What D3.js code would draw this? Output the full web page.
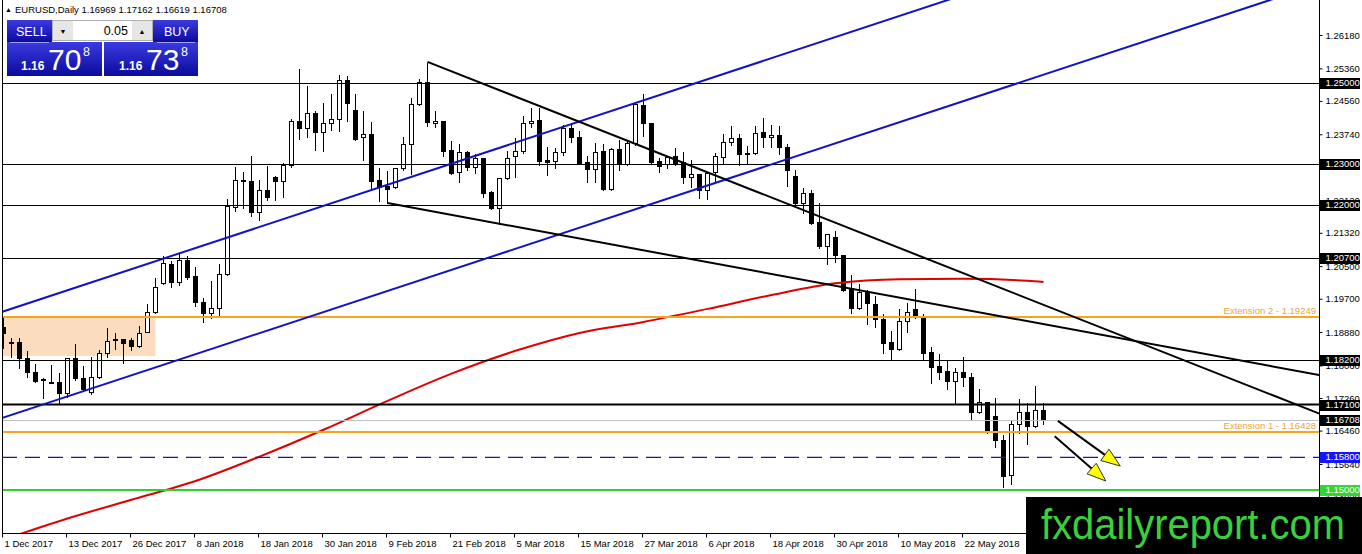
<!DOCTYPE html>
<html>
<head>
<meta charset="utf-8">
<script src="https://d3js.org/d3.v7.min.js"></script>
<style>
  body { margin: 0; background: #fff; overflow: hidden; }
  svg { display: block; }
  text { font-family: "Liberation Sans", Arial, sans-serif; }
</style>
</head>
<body>
<div id="chart"></div>
<script>
// ---- data ----
const dates = [
  "2017-12-01","2017-12-04","2017-12-05","2017-12-06","2017-12-07","2017-12-08","2017-12-11","2017-12-12","2017-12-13","2017-12-14",
  "2017-12-15","2017-12-18","2017-12-19","2017-12-20","2017-12-21","2017-12-22","2017-12-26","2017-12-27","2017-12-28","2017-12-29",
  "2018-01-02","2018-01-03","2018-01-04","2018-01-05","2018-01-08","2018-01-09","2018-01-10","2018-01-11","2018-01-12","2018-01-15",
  "2018-01-16","2018-01-17","2018-01-18","2018-01-19","2018-01-22","2018-01-23","2018-01-24","2018-01-25","2018-01-26","2018-01-29",
  "2018-01-30","2018-01-31","2018-02-01","2018-02-02","2018-02-05","2018-02-06","2018-02-07","2018-02-08","2018-02-09","2018-02-12",
  "2018-02-13","2018-02-14","2018-02-15","2018-02-16","2018-02-19","2018-02-20","2018-02-21","2018-02-22","2018-02-23","2018-02-26",
  "2018-02-27","2018-02-28","2018-03-01","2018-03-02","2018-03-05","2018-03-06","2018-03-07","2018-03-08","2018-03-09","2018-03-12",
  "2018-03-13","2018-03-14","2018-03-15","2018-03-16","2018-03-19","2018-03-20","2018-03-21","2018-03-22","2018-03-23","2018-03-26",
  "2018-03-27","2018-03-28","2018-03-29","2018-03-30","2018-04-02","2018-04-03","2018-04-04","2018-04-05","2018-04-06","2018-04-09",
  "2018-04-10","2018-04-11","2018-04-12","2018-04-13","2018-04-16","2018-04-17","2018-04-18","2018-04-19","2018-04-20","2018-04-23",
  "2018-04-24","2018-04-25","2018-04-26","2018-04-27","2018-04-30","2018-05-01","2018-05-02","2018-05-03","2018-05-04","2018-05-07",
  "2018-05-08","2018-05-09","2018-05-10","2018-05-11","2018-05-14","2018-05-15","2018-05-16","2018-05-17","2018-05-18","2018-05-21",
  "2018-05-22","2018-05-23","2018-05-24","2018-05-25","2018-05-28","2018-05-29","2018-05-30","2018-05-31","2018-06-01","2018-06-04",
  "2018-06-05"
];

const open = [
  1.1900,1.1864,1.1864,1.1824,1.1790,1.1770,1.1765,1.1765,1.1738,1.1824,
  1.1775,1.1740,1.1778,1.1837,1.1871,1.1871,1.1869,1.1854,1.1889,1.1937,
  1.2008,1.2055,1.2011,1.2065,1.2026,1.1962,1.1935,1.1947,1.2031,1.2196,
  1.2262,1.2258,1.2183,1.2237,1.2269,1.2259,1.2299,1.2407,1.2389,1.2426,
  1.2380,1.2402,1.2412,1.2507,1.2434,1.2367,1.2375,1.2262,1.2247,1.2245,
  1.2291,1.2350,1.2448,1.2502,1.2402,1.2407,1.2335,1.2281,1.2330,1.2294,
  1.2316,1.2232,1.2193,1.2267,1.2320,1.2333,1.2402,1.2409,1.2311,1.2308,
  1.2330,1.2389,1.2367,1.2306,1.2289,1.2333,1.2240,1.2338,1.2301,1.2353,
  1.2446,1.2402,1.2308,1.2301,1.2321,1.2306,1.2269,1.2276,1.2237,1.2281,
  1.2318,1.2355,1.2365,1.2328,1.2328,1.2380,1.2367,1.2372,1.2343,1.2272,
  1.2205,1.2230,1.2159,1.2100,1.2122,1.2077,1.1996,1.1947,1.1987,1.1957,
  1.1920,1.1864,1.1846,1.1915,1.1945,1.1925,1.1839,1.1805,1.1793,1.1768,
  1.1790,1.1778,1.1692,1.1716,1.1682,1.1623,1.1537,1.1662,1.1692,1.1657,
  1.16969
];
const high = [
  1.1925,1.1876,1.1876,1.1844,1.1812,1.1778,1.1810,1.1790,1.1827,1.1861,
  1.1807,1.1829,1.1846,1.1900,1.1888,1.1872,1.1876,1.1905,1.1960,1.2023,
  1.2077,1.2065,1.2082,1.2077,1.2050,1.1974,1.2016,1.2058,1.2217,1.2296,
  1.2284,1.2323,1.2264,1.2299,1.2274,1.2306,1.2414,1.2537,1.2495,1.2434,
  1.2453,1.2475,1.2522,1.2520,1.2475,1.2434,1.2407,1.2294,1.2286,1.2293,
  1.2370,1.2466,1.2512,1.2552,1.2434,1.2410,1.2360,1.2353,1.2335,1.2328,
  1.2318,1.2237,1.2269,1.2335,1.2367,1.2421,1.2441,1.2441,1.2345,1.2343,
  1.2399,1.2404,1.2385,1.2323,1.2355,1.2353,1.2343,1.2362,1.2362,1.2450,
  1.2475,1.2404,1.2318,1.2323,1.2343,1.2333,1.2313,1.2279,1.2281,1.2330,
  1.2377,1.2397,1.2377,1.2348,1.2397,1.2416,1.2399,1.2397,1.2353,1.2289,
  1.2245,1.2240,1.2208,1.2131,1.2139,1.2080,1.2031,1.2009,1.1994,1.1979,
  1.1935,1.1893,1.1947,1.1962,1.1996,1.1935,1.1854,1.1837,1.1822,1.1802,
  1.1829,1.1790,1.1751,1.1718,1.1729,1.1638,1.1672,1.1726,1.1716,1.1758,
  1.17162
];
const low = [
  1.1849,1.1827,1.1800,1.1778,1.1766,1.1726,1.1762,1.1714,1.1729,1.1770,
  1.1746,1.1736,1.1775,1.1827,1.1846,1.1812,1.1844,1.1852,1.1888,1.1935,
  1.2005,1.1999,1.2004,1.2018,1.1952,1.1913,1.1923,1.1928,1.2029,1.2186,
  1.2193,1.2173,1.2163,1.2213,1.2213,1.2220,1.2294,1.2362,1.2367,1.2335,
  1.2333,1.2385,1.2382,1.2407,1.2360,1.2311,1.2242,1.2210,1.2205,1.2243,
  1.2286,1.2276,1.2446,1.2394,1.2392,1.2321,1.2277,1.2257,1.2286,1.2279,
  1.2220,1.2191,1.2154,1.2265,1.2269,1.2328,1.2392,1.2299,1.2274,1.2291,
  1.2323,1.2355,1.2301,1.2257,1.2257,1.2238,1.2238,1.2286,1.2299,1.2348,
  1.2370,1.2303,1.2281,1.2291,1.2299,1.2254,1.2245,1.2217,1.2215,1.2257,
  1.2303,1.2348,1.2299,1.2303,1.2326,1.2343,1.2343,1.2326,1.2247,1.2203,
  1.2181,1.2154,1.2095,1.2055,1.2060,1.1989,1.1935,1.1945,1.1908,1.1900,
  1.1837,1.1820,1.1844,1.1888,1.1923,1.1820,1.1763,1.1773,1.1748,1.1714,
  1.1756,1.1674,1.1689,1.1641,1.1606,1.1507,1.1515,1.1640,1.1613,1.1655,
  1.16619
];
const close = [
  1.1886,1.1861,1.1824,1.1790,1.1768,1.1773,1.1763,1.1738,1.1824,1.1775,
  1.1748,1.1778,1.1837,1.1866,1.1869,1.1861,1.1854,1.1886,1.1937,1.1999,
  1.2058,1.2011,1.2065,1.2023,1.1962,1.1935,1.1947,1.2031,1.2198,1.2262,
  1.2258,1.2183,1.2237,1.2220,1.2259,1.2299,1.2407,1.2389,1.2426,1.2380,
  1.2402,1.2412,1.2507,1.2451,1.2362,1.2375,1.2259,1.2245,1.2240,1.2291,
  1.2350,1.2448,1.2502,1.2404,1.2407,1.2333,1.2279,1.2330,1.2294,1.2316,
  1.2230,1.2193,1.2267,1.2316,1.2333,1.2402,1.2407,1.2308,1.2306,1.2330,
  1.2389,1.2367,1.2303,1.2289,1.2330,1.2240,1.2338,1.2301,1.2353,1.2448,
  1.2402,1.2306,1.2296,1.2318,1.2301,1.2269,1.2276,1.2237,1.2279,1.2321,
  1.2355,1.2365,1.2326,1.2326,1.2377,1.2367,1.2372,1.2343,1.2286,1.2205,
  1.2230,1.2156,1.2100,1.2129,1.2077,1.1991,1.1947,1.1987,1.1960,1.1920,
  1.1861,1.1846,1.1915,1.1937,1.1925,1.1837,1.1802,1.1790,1.1768,1.1790,
  1.1778,1.1692,1.1716,1.1643,1.1623,1.1534,1.1662,1.1692,1.1657,1.1697,
  1.16708
];

// red moving average, read at a few dates
const maDates = ["2017-12-01","2017-12-13","2017-12-26","2018-01-08","2018-01-18","2018-01-30","2018-02-09","2018-02-21",
  "2018-03-05","2018-03-15","2018-03-27","2018-04-06","2018-04-18","2018-04-30","2018-05-10","2018-05-22","2018-06-01","2018-06-05"];
const maValues = [1.1378,1.1430,1.1476,1.1522,1.1582,1.1648,1.1719,1.1786,
  1.1842,1.1886,1.1913,1.1945,1.1979,1.2008,1.2018,1.2019,1.2014,1.2011];

// axis ticks
const priceTicks = [1.26180,1.25360,1.24560,1.23740,1.22940,1.22120,1.21320,1.20500,1.19700,1.18880,1.18060,1.17260,1.16460,1.15640,1.14820];
const tickDates = ["2017-12-01","2017-12-13","2017-12-26","2018-01-08","2018-01-18","2018-01-30","2018-02-09","2018-02-21",
  "2018-03-05","2018-03-15","2018-03-27","2018-04-06","2018-04-18","2018-04-30","2018-05-10","2018-05-22"];

// drawn objects
const blackLevels = [1.25, 1.23, 1.22, 1.207, 1.182];
const boldLevel = 1.171;
const extLevels = [1.19249, 1.16428];
const extNames = ["Extension 2", "Extension 1"];
const targetLevel = 1.158;
const supportLevel = 1.15;
const zoneTop = 1.19249, zoneBottom = 1.1829, zoneEnd = "2017-12-29";
// trendlines as [bar index, price] anchors
const blackTrends = [[[53, 1.2552], [164.3, 1.1689]], [[48, 1.2205], [164.3, 1.1783]]];
const blueChannel = [[[0, 1.1939], [100, 1.2587]], [[0, 1.1678], [100, 1.2326]]];
const arrows = [[[131.8, 1.1670], [139.6, 1.1559]], [[131.4, 1.1632], [137.8, 1.1522]]];

const symbol = "EURUSD,Daily";
const bid = "1.16708", ask = "1.16738", lot = "0.05";

// ---- layout ----
const width = 1362, height = 554;
const plot = { left: 2, right: 1319, top: 0, bottom: 533 };

const svg = d3.select("#chart").append("svg")
  .attr("width", width)
  .attr("height", height);

const x = d3.scaleLinear().domain([0, 164]).range([3.5, 3.5 + 8 * 164]);
const y = d3.scaleLinear().domain([1.13944, 1.27039]).range([plot.bottom, 0]);
const py = v => Math.round(y(v)) + 0.5;
const idx = d => dates.indexOf(d);

svg.append("defs").append("clipPath").attr("id", "plotclip")
  .append("rect")
  .attr("x", plot.left).attr("y", plot.top)
  .attr("width", plot.right - plot.left).attr("height", plot.bottom - plot.top);

const g = svg.append("g").attr("clip-path", "url(#plotclip)");

// shaded zone behind candles
g.append("rect")
  .attr("x", plot.left)
  .attr("y", y(zoneTop))
  .attr("width", x(idx(zoneEnd)) - plot.left)
  .attr("height", y(zoneBottom) - y(zoneTop))
  .attr("fill", "#fcdcbf");

// candles
const bars = dates.map((d, i) => ({ date: d, i, o: open[i], h: high[i], l: low[i], c: close[i] }));
const candles = g.append("g").attr("shape-rendering", "crispEdges")
  .selectAll("g").data(bars).join("g");

candles.append("line")
  .attr("x1", d => x(d.i)).attr("x2", d => x(d.i))
  .attr("y1", d => py(d.h)).attr("y2", d => py(d.l))
  .attr("stroke", "#000");

candles.append("rect")
  .attr("x", d => x(d.i) - 2)
  .attr("width", 4)
  .attr("y", d => py(Math.max(d.o, d.c)))
  .attr("height", d => Math.max(1, py(Math.min(d.o, d.c)) - py(Math.max(d.o, d.c))))
  .attr("fill", d => d.c >= d.o ? "#fff" : "#000")
  .attr("stroke", "#000");

// moving average
g.append("path")
  .datum(maDates.map((d, k) => [idx(d), maValues[k]]))
  .attr("fill", "none")
  .attr("stroke", "#e00000")
  .attr("stroke-width", 2)
  .attr("d", d3.line().x(d => x(d[0])).y(d => y(d[1])).curve(d3.curveMonotoneX));

// horizontal levels
const hline = (v, color, w, dash) => g.append("line")
  .attr("x1", plot.left).attr("x2", plot.right)
  .attr("y1", w === 1 ? py(v) : y(v)).attr("y2", w === 1 ? py(v) : y(v))
  .attr("stroke", color).attr("stroke-width", w)
  .attr("stroke-dasharray", dash || null);

blackLevels.forEach(v => hline(v, "#000", 1));
hline(close[close.length - 1], "#c0c0c0", 1);
hline(boldLevel, "#000", 2);
extLevels.forEach(v => hline(v, "#f5a51f", 2));
hline(targetLevel, "#1414b4", 1.2, "15,8");
hline(supportLevel, "#2ed12e", 2);

extLevels.forEach((v, k) => g.append("text")
  .attr("x", plot.right - 3)
  .attr("y", y(v) - 3)
  .attr("text-anchor", "end")
  .attr("font-size", 9.5)
  .attr("fill", "#eea43a")
  .text(`${extNames[k]} - ${v.toFixed(5)}`));

// trendlines (extended to the right)
const extend = (a, b, i) => a[1] + (b[1] - a[1]) * (i - a[0]) / (b[0] - a[0]);

blueChannel.forEach(([a, b]) => g.append("line")
  .attr("x1", x(-5)).attr("y1", y(extend(a, b, -5)))
  .attr("x2", x(170)).attr("y2", y(extend(a, b, 170)))
  .attr("stroke", "#1212c4").attr("stroke-width", 2));

blackTrends.forEach(([a, b]) => g.append("line")
  .attr("x1", x(a[0])).attr("y1", y(a[1]))
  .attr("x2", x(170)).attr("y2", y(extend(a, b, 170)))
  .attr("stroke", "#000").attr("stroke-width", 2));

// arrows
arrows.forEach(([a, b]) => {
  const x1 = x(a[0]), y1 = y(a[1]), x2 = x(b[0]), y2 = y(b[1]);
  const ang = Math.atan2(y2 - y1, x2 - x1);
  const len = 19, half = 7;
  const bx = x2 - len * Math.cos(ang), by = y2 - len * Math.sin(ang);
  g.append("line")
    .attr("x1", x1).attr("y1", y1).attr("x2", bx).attr("y2", by)
    .attr("stroke", "#000").attr("stroke-width", 2);
  const pts = [
    [x2, y2],
    [bx + half * Math.sin(ang), by - half * Math.cos(ang)],
    [bx - half * Math.sin(ang), by + half * Math.cos(ang)]
  ];
  g.append("polygon")
    .attr("points", pts.map(p => p.join(",")).join(" "))
    .attr("fill", "#ffff00")
    .attr("stroke", "#333")
    .attr("stroke-width", 1);
});

// frame
const frame = svg.append("g").attr("stroke", "#000").attr("shape-rendering", "crispEdges");
frame.append("line").attr("x1", plot.left + 0.5).attr("x2", plot.left + 0.5).attr("y1", 0).attr("y2", plot.bottom + 0.5);
frame.append("line").attr("x1", plot.right + 0.5).attr("x2", plot.right + 0.5).attr("y1", 0).attr("y2", plot.bottom + 0.5);
frame.append("line").attr("x1", plot.left).attr("x2", plot.right + 1).attr("y1", plot.bottom + 0.5).attr("y2", plot.bottom + 0.5);

// price axis
const yAxis = svg.append("g")
  .attr("transform", `translate(${plot.right + 0.5},0)`)
  .call(d3.axisRight(y).tickValues(priceTicks).tickSize(3).tickFormat(d3.format(".5f")));
yAxis.select(".domain").remove();
yAxis.selectAll("text")
  .attr("font-family", "Liberation Sans, Arial, sans-serif")
  .attr("font-size", 9.5)
  .attr("x", 6)
  .attr("fill", "#000");

// boxed price labels
const boxed = blackLevels.concat([boldLevel]).map(v => ({ v, bg: "#000" }))
  .concat([{ v: close[close.length - 1], bg: "#000" }, { v: targetLevel, bg: "#1414ff" }, { v: supportLevel, bg: "#33d433" }]);
const lab = svg.append("g").selectAll("g").data(boxed).join("g")
  .attr("transform", d => `translate(${plot.right + 1},${Math.round(y(d.v))})`);
lab.append("rect").attr("x", 0).attr("y", -5).attr("width", 40).attr("height", 11).attr("fill", d => d.bg);
lab.append("text")
  .attr("x", 5.5).attr("y", 0).attr("dy", "0.35em")
  .attr("font-size", 9.5).attr("fill", "#fff")
  .text(d => d.v.toFixed(5));

// date axis
const fmt = d3.timeFormat("%-d %b %Y"), parse = d3.timeParse("%Y-%m-%d");
const xAxis = svg.append("g")
  .attr("transform", `translate(-1.5,${plot.bottom + 0.5})`)
  .call(d3.axisBottom(x).tickValues(tickDates.map(idx)).tickSize(4).tickFormat(i => fmt(parse(dates[i]))));
xAxis.select(".domain").remove();
xAxis.selectAll("text")
  .attr("font-family", "Liberation Sans, Arial, sans-serif")
  .attr("font-size", 9.5)
  .attr("text-anchor", "start")
  .attr("x", 2)
  .attr("fill", "#000");

// header
svg.append("text").attr("x", 5).attr("y", 12).attr("font-size", 7).text("\u25B2");
svg.append("text").attr("x", 15).attr("y", 13).attr("font-size", 9.5)
  .text(`${symbol}  ${open[130].toFixed(5)} ${high[130].toFixed(5)} ${low[130].toFixed(5)} ${close[130].toFixed(5)}`);

// one-click trading panel
const grad = svg.select("defs").append("linearGradient").attr("id", "btn")
  .attr("x1", 0).attr("y1", 0).attr("x2", 0).attr("y2", 1);
grad.append("stop").attr("offset", "0%").attr("stop-color", "#3a3ae2");
grad.append("stop").attr("offset", "100%").attr("stop-color", "#0b0b9c");

const panel = svg.append("g");
[[7, 20, 45, 22], [153, 20, 45, 22], [7, 42, 95, 34], [104, 42, 94, 34]].forEach(r =>
  panel.append("rect").attr("x", r[0]).attr("y", r[1]).attr("width", r[2]).attr("height", r[3])
    .attr("fill", "url(#btn)"));
panel.append("line").attr("x1", 10).attr("x2", 49).attr("y1", 42.5).attr("y2", 42.5).attr("stroke", "#a0a0ff");
panel.append("line").attr("x1", 157).attr("x2", 195).attr("y1", 42.5).attr("y2", 42.5).attr("stroke", "#a0a0ff");
panel.append("rect").attr("x", 52.5).attr("y", 20.5).attr("width", 100).attr("height", 20)
  .attr("fill", "#fff").attr("stroke", "#b0b0b0");
panel.append("rect").attr("x", 53).attr("y", 21).attr("width", 20).attr("height", 19).attr("fill", "#e6e6e6");
panel.append("rect").attr("x", 132).attr("y", 21).attr("width", 20).attr("height", 19).attr("fill", "#e6e6e6");
panel.append("text").attr("x", 63).attr("y", 34).attr("text-anchor", "middle").attr("font-size", 7).text("\u25BC");
panel.append("text").attr("x", 142).attr("y", 34).attr("text-anchor", "middle").attr("font-size", 7).text("\u25B2");
panel.append("text").attr("x", 128).attr("y", 35).attr("text-anchor", "end").attr("font-size", 12.5).text(lot);
panel.append("text").attr("x", 16).attr("y", 36).attr("font-size", 12.5).attr("fill", "#fff").text("SELL");
panel.append("text").attr("x", 164).attr("y", 36).attr("font-size", 12.5).attr("fill", "#fff").text("BUY");

[[bid, 21], [ask, 119]].forEach(([p, x0]) => {
  panel.append("text").attr("x", x0).attr("y", 70).attr("font-size", 12).attr("font-weight", "bold")
    .attr("fill", "#fff").text(p.slice(0, 4));
  panel.append("text").attr("x", x0 + 27).attr("y", 70).attr("font-size", 30)
    .attr("fill", "#fff").text(p.slice(4, 6));
  panel.append("text").attr("x", x0 + 62).attr("y", 56).attr("font-size", 12.5)
    .attr("fill", "#fff").text(p.slice(6));
});

// watermark
svg.append("rect").attr("x", 1026).attr("y", 497).attr("width", 336).attr("height", 57).attr("fill", "#000");
svg.append("text")
  .attr("x", 1041).attr("y", 539)
  .attr("font-size", 43)
  .attr("textLength", 304)
  .attr("lengthAdjust", "spacingAndGlyphs")
  .attr("fill", "#3ccf3c")
  .text("fxdailyreport.com");
</script>
</body>
</html>
